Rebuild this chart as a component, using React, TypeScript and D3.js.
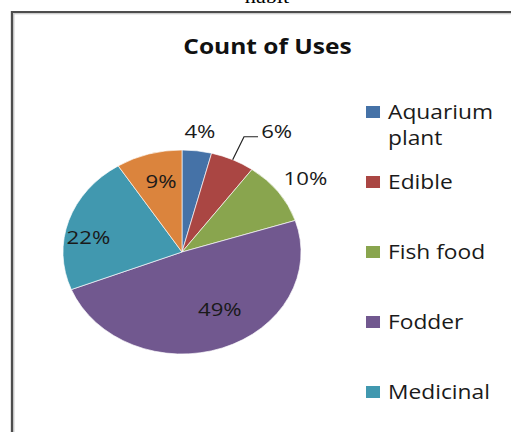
import React from "react";
import * as d3 from "d3";

const categories = ["Aquarium plant", "Edible", "Fish food", "Fodder", "Medicinal", "Other"];
const legendLines = [["Aquarium", "plant"], ["Edible"], ["Fish food"], ["Fodder"], ["Medicinal"]];
const percents = [4, 6, 10, 49, 22, 9];
const colors = ["#4572A7", "#AA4643", "#89A54E", "#71588F", "#4198AF", "#DB843D"];
// label placement: radius factor and angle nudge (deg)
const labelRadius = [1.2, 1.43, 1.27, 0.64, 0.8, 0.72];
const labelShift = [0, 8.6, 0.7, -10, -7.4, 2];

const W = 511;
const H = 432;
const SX = 1.167;
const cx = 182 / SX;
const cy = 252;
const R = 102;

export default function App() {
  const pie = d3.pie<number>().sort(null).value((d) => d)(percents);
  const arc = d3.arc<d3.PieArcDatum<number>>().innerRadius(0).outerRadius(R);
  const polar = (angDeg: number, r: number) => {
    const a = (angDeg * Math.PI) / 180;
    return [cx + r * Math.sin(a), cy - r * Math.cos(a)];
  };
  const font = "'Open Sans', 'Noto Sans', sans-serif";
  return (
    <svg width={W} height={H} style={{ position: "absolute", left: 0, top: 0, display: "block", background: "#fff" }}>
      <g transform={`scale(${SX},1)`}>
        <text x={267 / SX} y={3} textAnchor="middle" fontFamily="'Liberation Serif', serif" fontSize={19} fill="#000">habit</text>
        <path d={`M${12 / SX},${H} V12 H${W / SX}`} fill="none" stroke="#4d4d4d" strokeWidth={2} />
        <path d={`M${13.8 / SX},${H} V13.8 H${W / SX}`} fill="none" stroke="#bdbdbd" strokeWidth={1} />
        <text x={267.5 / SX} y={54} textAnchor="middle" fontFamily={font} fontWeight="bold" fontSize={21} fill="#111">Count of Uses</text>
        <g transform={`translate(${cx},${cy})`}>
          {pie.map((p, i) => (
            <path key={i} d={arc(p) || ""} fill={colors[i]} stroke="#fff" strokeWidth={0.6} />
          ))}
        </g>
        {pie.map((p, i) => {
          const mid = ((p.startAngle + p.endAngle) / 2) * 180 / Math.PI;
          const [lx, ly] = polar(mid + labelShift[i], R * labelRadius[i]);
          const label = `${percents[i]}%`;
          let leader = null;
          if (labelRadius[i] > 1.35) {
            const [ex, ey] = polar(mid, R);
            const left = lx - 16;
            leader = (
              <polyline
                points={`${ex},${ey} ${left - 12},${ly + 6} ${left},${ly + 6}`}
                fill="none"
                stroke="#222"
                strokeWidth={1}
              />
            );
          }
          return (
            <g key={i}>
              {leader}
              <text x={lx} y={ly} textAnchor="middle" dominantBaseline="central" fontFamily={font} fontSize={19} fill="#1a1a1a">
                {label}
              </text>
            </g>
          );
        })}
        {legendLines.map((lines, i) => {
          const y = 112 + i * 70;
          return (
            <g key={categories[i]}>
              <rect x={366 / SX} y={y - 6} width={12} height={12} fill={colors[i]} />
              {lines.map((t, j) => (
                <text key={j} x={388 / SX} y={y + 7 + j * 26} fontFamily={font} fontSize={19.5} fill="#1a1a1a">
                  {t}
                </text>
              ))}
            </g>
          );
        })}
      </g>
    </svg>
  );
}
